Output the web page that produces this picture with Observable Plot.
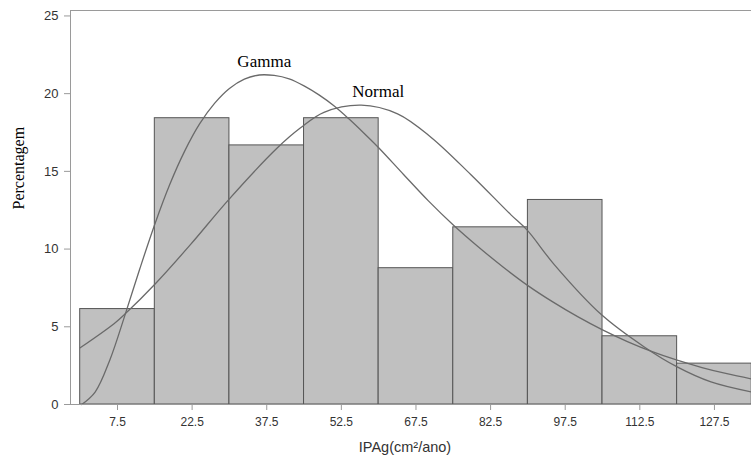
<!DOCTYPE html>
<html>
<head>
<meta charset="utf-8">
<script src="https://cdn.jsdelivr.net/npm/d3@7"></script>
<script src="https://cdn.jsdelivr.net/npm/@observablehq/plot@0.6"></script>
<style>
  html, body { margin: 0; padding: 0; background: #fff; }
  #chart svg { display: block; }
</style>
</head>
<body>
<div id="chart"></div>
<script>
// Histogram bins (class limits) and percentages
const binStart = [0, 15, 30, 45, 60, 75, 90, 105, 120];
const binEnd   = [15, 30, 45, 60, 75, 90, 105, 120, 135];
const percent  = [6.14, 18.42, 16.67, 18.42, 8.77, 11.40, 13.16, 4.39, 2.63];

// Fitted Gamma curve
const gammaX = [0.3, 3, 6, 9, 12, 15, 18, 21, 24, 27, 30, 33, 36, 39, 42, 45, 48, 51, 54, 57, 60, 65, 70, 75, 80, 85, 90, 95, 100, 105, 110, 115, 120, 125, 130, 135];
const gammaY = [0, 0.8, 2.9, 5.75, 8.75, 11.6, 14.15, 16.3, 18.05, 19.37, 20.33, 20.93, 21.2, 21.17, 20.95, 20.5, 19.92, 19.22, 18.38, 17.47, 16.52, 14.8, 13.1, 11.55, 10.15, 8.85, 7.65, 6.6, 5.65, 4.8, 4.05, 3.4, 2.85, 2.38, 1.98, 1.64];

// Fitted Normal curve
const normalX = [0, 6.8, 9.1, 15.2, 22.2, 29.9, 39.6, 44.3, 49, 56.5, 63.8, 70.5, 78.5, 86.6, 89.9, 95.3, 104.7, 113.4, 120.1, 126.8, 135];
const normalY = [3.65, 5.2, 5.85, 7.8, 10.3, 13.2, 16.5, 17.8, 18.8, 19.26, 18.7, 17.2, 14.8, 12.2, 11.2, 9.0, 5.8, 3.7, 2.4, 1.45, 0.8];

// Axis ticks and labels
const xTicks = [7.5, 22.5, 37.5, 52.5, 67.5, 82.5, 97.5, 112.5, 127.5];
const yTicks = [0, 5, 10, 15, 20, 25];
const xDomain = [-1.95, 134.95];
const yDomain = [0, 25.35];
const xLabel = "IPAg(cm²/ano)";
const yLabel = "Percentagem";
const curveNames = ["Gamma", "Normal"];

const bins = binStart.map((s, i) => ({x1: s, x2: binEnd[i], y: percent[i]}));
const gamma = gammaX.map((x, i) => ({x, y: gammaY[i]}));
const normal = normalX.map((x, i) => ({x, y: normalY[i]}));
const gPeak = d3.greatest(gamma, d => d.y);
const nPeak = d3.greatest(normal, d => d.y);

const plot = Plot.plot({
  width: 751,
  height: 460,
  marginTop: 10,
  marginRight: 0,
  marginBottom: 56,
  marginLeft: 70,
  style: {fontFamily: "'Liberation Sans', Arial, sans-serif", fontSize: "12px", color: "#333", background: "#fff"},
  x: {domain: xDomain},
  y: {domain: yDomain},
  marks: [
    Plot.rectY(bins, {x1: "x1", x2: "x2", y: "y", fill: "#c0c0c0", stroke: "#555", strokeWidth: 1, inset: 0}),
    Plot.line(gamma, {x: "x", y: "y", stroke: "#6a6a6a", strokeWidth: 1.3, curve: "catmull-rom"}),
    Plot.line(normal, {x: "x", y: "y", stroke: "#6a6a6a", strokeWidth: 1.3, curve: "catmull-rom"}),
    Plot.text([gPeak], {x: "x", y: "y", text: () => curveNames[0], dx: 5, dy: -8, lineAnchor: "bottom", fontFamily: "'Liberation Serif', 'Times New Roman', serif", fontSize: 17, fill: "#000"}),
    Plot.text([nPeak], {x: "x", y: "y", text: () => curveNames[1], dx: 17, dy: -8, lineAnchor: "bottom", fontFamily: "'Liberation Serif', 'Times New Roman', serif", fontSize: 17, fill: "#000"}),
    Plot.ruleX([xDomain[0]], {stroke: "#9a9a9a"}),
    Plot.ruleY([yDomain[0], yDomain[1]], {stroke: "#9a9a9a"}),
    Plot.axisX({ticks: xTicks, tickFormat: d => String(d), tickSize: 6, tickPadding: 7, stroke: "#9a9a9a", fill: "#333", label: null}),
    Plot.axisY({ticks: yTicks, tickFormat: d => String(d), tickSize: 6, tickPadding: 6, stroke: "#9a9a9a", fill: "#333", label: null, fontSize: 13}),
    Plot.text([xLabel], {text: d => d, frameAnchor: "bottom", dx: -6, dy: 47, lineAnchor: "bottom", fontSize: 14.5, fill: "#333"}),
    Plot.text([yLabel], {text: d => d, frameAnchor: "left", dx: -52, dy: 2, rotate: -90, lineAnchor: "middle", fontFamily: "'Liberation Serif', 'Times New Roman', serif", fontSize: 16, fill: "#000"})
  ]
});
document.getElementById("chart").appendChild(plot);
</script>
</body>
</html>
